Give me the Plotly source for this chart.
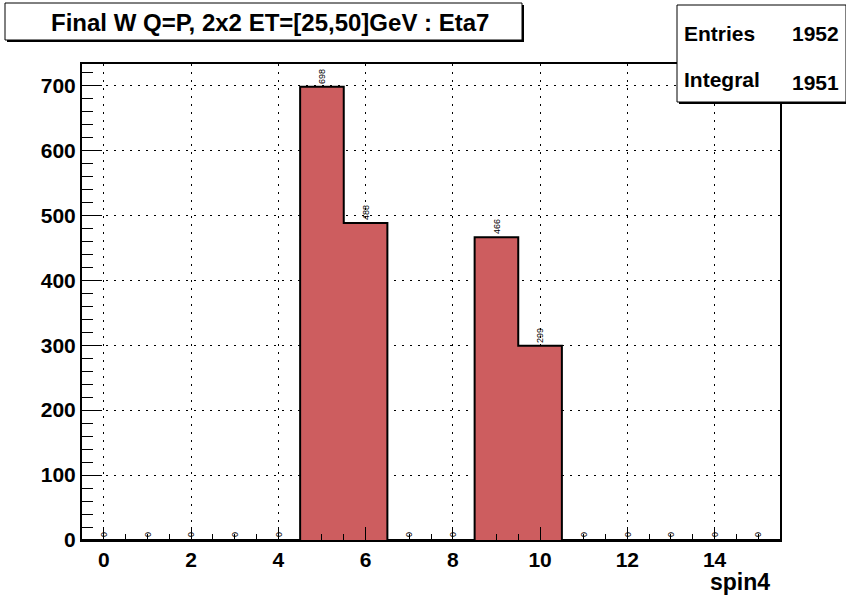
import plotly.graph_objects as go

bins = list(range(16))
counts = [0, 0, 0, 0, 0, 698, 488, 0, 0, 466, 299, 0, 0, 0, 0, 0]
bin_width = 1
title_text = "Final W Q=P, 2x2 ET=[25,50]GeV : Eta7"
x_title = "spin4"
stats_labels = ["Entries", "Integral"]
stats_values = ["1952", "1951"]

W, H = 846, 600
L, R, T, B = 82, 780, 64, 540

def px(x):
    return (x - L) / (R - L)

def py(y):
    return (B - y) / (B - T)

# histogram contour from the bin data
edges = [b - bin_width / 2 for b in bins] + [bins[-1] + bin_width / 2]
contour_y = counts + [counts[-1]]

fig = go.Figure()
fig.add_trace(go.Bar(
    x=bins, y=counts, width=bin_width,
    marker=dict(color="rgb(205,93,95)", line=dict(width=0)),
    text=[str(c) for c in counts], textposition="outside", textangle=-90,
    textfont=dict(family="Arial", size=9, color="black"),
    cliponaxis=False, showlegend=False,
))
fig.add_trace(go.Scatter(
    x=edges, y=contour_y, mode="lines", line=dict(shape="hv", color="black", width=2),
    showlegend=False, hoverinfo="skip",
))

tickfont = dict(family="Arial", size=21, color="black", weight="bold")
grid_dash = "2px,6px"
fig.update_xaxes(
    range=[-0.5, 15.5], dtick=2, tick0=0, ticks="inside", ticklen=13, tickwidth=1,
    tickcolor="black", minor=dict(dtick=0.5, ticks="inside", ticklen=6, tickcolor="black", showgrid=False),
    showline=True, linecolor="black", linewidth=2, mirror=True,
    showgrid=True, gridcolor="black", griddash=grid_dash, gridwidth=1,
    tickfont=tickfont, zeroline=False,
)
fig.update_yaxes(
    range=[0, 732.9], dtick=100, tick0=0, ticks="inside", ticklen=20, tickwidth=1,
    tickcolor="black", minor=dict(dtick=20, ticks="inside", ticklen=11, tickcolor="black", showgrid=False),
    showline=True, linecolor="black", linewidth=2, mirror=True,
    showgrid=True, gridcolor="black", griddash=grid_dash, gridwidth=1,
    tickfont=tickfont, zeroline=False,
)

shapes = []
# title box with shadow
shapes.append(dict(type="rect", xref="paper", yref="paper", x0=px(7), x1=px(524), y0=py(42), y1=py(5),
                   line=dict(width=0), fillcolor="black", layer="above"))
shapes.append(dict(type="rect", xref="paper", yref="paper", x0=px(5), x1=px(522), y0=py(40), y1=py(3),
                   line=dict(width=1, color="black"), fillcolor="white", layer="above"))
# stats box with shadow
shapes.append(dict(type="rect", xref="paper", yref="paper", x0=px(679), x1=px(848), y0=py(104), y1=py(7),
                   line=dict(width=0), fillcolor="black", layer="above"))
shapes.append(dict(type="rect", xref="paper", yref="paper", x0=px(677), x1=px(846), y0=py(102), y1=py(5),
                   line=dict(width=1, color="black"), fillcolor="white", layer="above"))

bold = lambda s: dict(family="Arial", size=s, color="black", weight="bold")
annotations = [
    dict(x=px(270), y=py(22), xref="paper", yref="paper", text=title_text, showarrow=False,
         font=bold(24), xanchor="center", yanchor="middle"),
    dict(x=px(682), y=py(33), xref="paper", yref="paper", text=stats_labels[0], showarrow=False,
         font=bold(21), xanchor="left", yanchor="middle"),
    dict(x=px(841), y=py(33), xref="paper", yref="paper", text=stats_values[0], showarrow=False,
         font=bold(21), xanchor="right", yanchor="middle"),
    dict(x=px(682), y=py(79), xref="paper", yref="paper", text=stats_labels[1], showarrow=False,
         font=bold(21), xanchor="left", yanchor="middle"),
    dict(x=px(841), y=py(83), xref="paper", yref="paper", text=stats_values[1], showarrow=False,
         font=bold(21), xanchor="right", yanchor="middle"),
    dict(x=px(772), y=py(582), xref="paper", yref="paper", text=x_title, showarrow=False,
         font=bold(23), xanchor="right", yanchor="middle"),
]

fig.update_layout(
    width=W, height=H, autosize=False,
    margin=dict(l=L, r=W - R, t=T, b=H - B, pad=0),
    paper_bgcolor="white", plot_bgcolor="white",
    shapes=shapes, annotations=annotations, bargap=0,
)
fig.write_html("out.html", config={"displayModeBar": False},
               post_script="document.body.style.margin='0';document.body.style.overflow='hidden';")
